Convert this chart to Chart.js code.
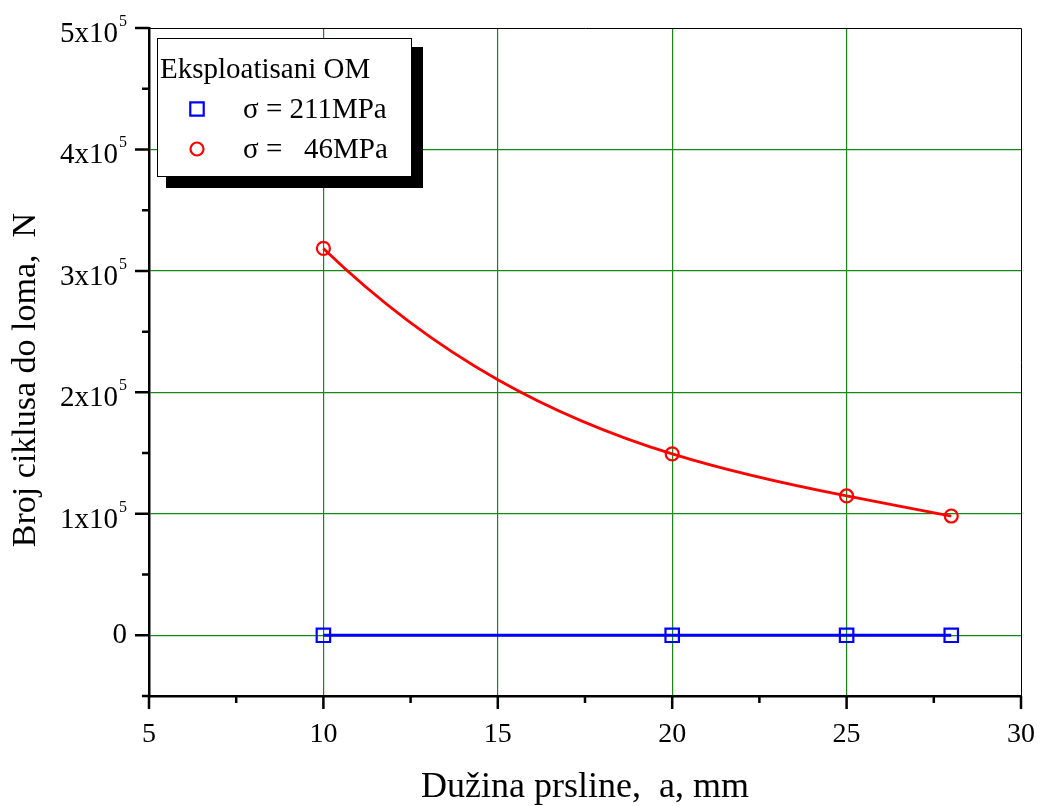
<!DOCTYPE html>
<html><head><meta charset="utf-8">
<script src="https://cdn.jsdelivr.net/npm/chart.js@4/dist/chart.umd.min.js"></script>
<style>html,body{margin:0;padding:0;background:#fff}#wrap{width:1040px;height:806px}</style>
</head><body><div id="wrap"><canvas id="c" width="1040" height="806"></canvas></div>
<script>
// ---- data ----
const crackLength = [10, 20, 25, 28];
const cycles211 = [0, 0, 0, 0];
const cycles46 = [318500, 149300, 114700, 98200];
const xTicks = [5, 10, 15, 20, 25, 30];
const xTickLabels = ['5', '10', '15', '20', '25', '30'];
const yTicks = [0, 100000, 200000, 300000, 400000, 500000];
const yTickLabels = ['0', '1x10', '2x10', '3x10', '4x10', '5x10'];
const yTickExp = ['', '5', '5', '5', '5', '5'];
const legendTitle = 'Eksploatisani OM';
const seriesNames = ['σ = 211MPa', 'σ =   46MPa'];
const xTitle = 'Dužina prsline,  a, mm';
const yTitle = 'Broj ciklusa do loma,  N';

const FONT = '"Liberation Serif", "Times New Roman", serif';

// Smooth interpolating curve through the dataset's points (polynomial derivative at nodes)
const smoothCurve = {
  id: 'smoothCurve',
  beforeDatasetDraw(chart, args) {
    const meta = args.meta, line = meta.dataset;
    if (!line || !line.updateControlPoints) return;
    line.updateControlPoints(chart.chartArea, 'x');
    const pts = meta.data, n = pts.length;
    if (n < 3) return;
    const xs = pts.map(p => p.x), ys = pts.map(p => p.y);
    const d = xs.map((xj, j) => {
      let s = 0;
      for (let i = 0; i < n; i++) {
        let li;
        if (i === j) {
          li = 0;
          for (let k = 0; k < n; k++) if (k !== j) li += 1 / (xj - xs[k]);
        } else {
          li = 1 / (xs[i] - xj);
          for (let k = 0; k < n; k++) if (k !== i && k !== j) li *= (xj - xs[k]) / (xs[i] - xs[k]);
        }
        s += ys[i] * li;
      }
      return s;
    });
    for (let j = 0; j < n; j++) {
      if (j > 0) { const h = xs[j] - xs[j - 1]; pts[j].cp1x = xs[j] - h / 3; pts[j].cp1y = ys[j] - d[j] * h / 3; }
      if (j < n - 1) { const h = xs[j + 1] - xs[j]; pts[j].cp2x = xs[j] + h / 3; pts[j].cp2y = ys[j] + d[j] * h / 3; }
    }
    line._path = undefined;
  }
};

const decor = {
  id: 'decor',
  afterDraw(chart) {
    const ctx = chart.ctx, a = chart.chartArea;
    const xs = chart.scales.x, ys = chart.scales.y;
    ctx.save();
    // top & right frame
    ctx.strokeStyle = '#000'; ctx.lineWidth = 1;
    ctx.beginPath();
    ctx.moveTo(a.left, a.top + 0.5); ctx.lineTo(a.right + 0.5, a.top + 0.5);
    ctx.lineTo(a.right + 0.5, a.bottom);
    ctx.stroke();
    // ticks
    ctx.lineWidth = 2.5;
    ctx.beginPath();
    const yStep = yTicks[1] - yTicks[0];
    yTicks.forEach(v => { const p = ys.getPixelForValue(v); ctx.moveTo(a.left - 14, p); ctx.lineTo(a.left, p); });
    [yTicks[0] - yStep / 2].concat(yTicks.slice(0, -1).map(v => v + yStep / 2)).forEach(v => {
      const p = ys.getPixelForValue(v); ctx.moveTo(a.left - 7, p); ctx.lineTo(a.left, p);
    });
    const xStep = xTicks[1] - xTicks[0];
    xTicks.forEach(v => { const p = xs.getPixelForValue(v); ctx.moveTo(p, a.bottom); ctx.lineTo(p, a.bottom + 13); });
    xTicks.slice(0, -1).map(v => v + xStep / 2).forEach(v => {
      const p = xs.getPixelForValue(v); ctx.moveTo(p, a.bottom); ctx.lineTo(p, a.bottom + 7);
    });
    ctx.stroke();
    // tick labels
    ctx.fillStyle = '#000';
    ctx.font = '28px ' + FONT;
    ctx.textAlign = 'center'; ctx.textBaseline = 'alphabetic';
    xTicks.forEach((v, i) => ctx.fillText(xTickLabels[i], xs.getPixelForValue(v), a.bottom + 46));
    const rightEdge = 127;
    yTicks.forEach((v, i) => {
      const p = ys.getPixelForValue(v);
      if (yTickExp[i]) {
        ctx.font = '16px ' + FONT;
        const sw = ctx.measureText(yTickExp[i]).width;
        ctx.textAlign = 'left';
        ctx.fillText(yTickExp[i], rightEdge - sw, p - 2);
        ctx.font = '29px ' + FONT;
        ctx.textAlign = 'right';
        ctx.fillText(yTickLabels[i], rightEdge - sw - 1, p + 14);
      } else {
        ctx.font = '29px ' + FONT;
        ctx.textAlign = 'right';
        ctx.fillText(yTickLabels[i], rightEdge, p + 8);
      }
    });
    // axis titles
    ctx.font = '36px ' + FONT;
    ctx.textAlign = 'center';
    ctx.fillText(xTitle, (a.left + a.right) / 2, 797);
    ctx.save();
    ctx.translate(35, 380);
    ctx.rotate(-Math.PI / 2);
    ctx.font = '34px ' + FONT;
    ctx.fillText(yTitle, 0, 0);
    ctx.restore();
    // legend
    const bx = 157, by = 38, bw = 254, bh = 138;
    ctx.fillStyle = '#000';
    ctx.fillRect(bx + 9, by + 9, bw + 3, bh + 3);
    ctx.fillStyle = '#fff';
    ctx.fillRect(bx, by, bw, bh);
    ctx.strokeStyle = '#000'; ctx.lineWidth = 1;
    ctx.strokeRect(bx + 0.5, by + 0.5, bw, bh);
    ctx.fillStyle = '#000';
    ctx.font = '29px ' + FONT;
    ctx.textAlign = 'left';
    ctx.fillText(legendTitle, 160, 78);
    const rowsY = [109, 149];
    chart.data.datasets.forEach((ds, i) => {
      ctx.lineWidth = ds.pointBorderWidth;
      ctx.strokeStyle = ds.pointBorderColor;
      ctx.fillStyle = 'rgba(0,0,0,0)';
      Chart.helpers.drawPoint(ctx, { pointStyle: ds.pointStyle, radius: ds.pointRadius, borderWidth: ds.pointBorderWidth, rotation: 0 }, 197, rowsY[i]);
      ctx.fillStyle = '#000';
      ctx.fillText(ds.label, 243, rowsY[i] + 9);
    });
    ctx.restore();
  }
};

const gridColor = (lo, hi) => c => (c.tick && c.tick.value >= lo && c.tick.value <= hi) ? '#148a14' : 'rgba(0,0,0,0)';

new Chart(document.getElementById('c'), {
  type: 'line',
  data: {
    datasets: [
      { label: seriesNames[0], data: crackLength.map((x, i) => ({ x, y: cycles211[i] })),
        borderColor: '#0000ff', borderWidth: 3, pointStyle: 'rect', pointRadius: 9.5, pointBorderWidth: 2.2,
        pointBorderColor: '#0000ff', pointBackgroundColor: 'rgba(0,0,0,0)', backgroundColor: 'rgba(0,0,0,0)',
        tension: 0.4, fill: false },
      { label: seriesNames[1], data: crackLength.map((x, i) => ({ x, y: cycles46[i] })),
        borderColor: '#ff0000', borderWidth: 2.8, pointStyle: 'circle', pointRadius: 6.5, pointBorderWidth: 2.2,
        pointBorderColor: '#ff0000', pointBackgroundColor: 'rgba(0,0,0,0)', backgroundColor: 'rgba(0,0,0,0)',
        tension: 0.4, fill: false }
    ]
  },
  options: {
    responsive: false, animation: false, devicePixelRatio: 1,
    layout: { padding: { top: 28, right: 19, left: 0, bottom: 0 } },
    plugins: { legend: { display: false }, tooltip: { enabled: false } },
    scales: {
      x: {
        type: 'linear', min: xTicks[0], max: xTicks[xTicks.length - 1],
        afterBuildTicks: s => { s.ticks = xTicks.map(v => ({ value: v })); },
        afterFit: s => { s.height = 110; },
        ticks: { display: false },
        grid: { drawTicks: false, lineWidth: 1.2, color: gridColor(xTicks[1], xTicks[xTicks.length - 2]) },
        border: { display: true, color: '#000', width: 2.5 }
      },
      y: {
        type: 'linear', min: -50000, max: yTicks[yTicks.length - 1],
        afterBuildTicks: s => { s.ticks = yTicks.map(v => ({ value: v })); },
        afterFit: s => { s.width = 149; },
        ticks: { display: false },
        grid: { drawTicks: false, lineWidth: 1.2, color: gridColor(yTicks[0], yTicks[yTicks.length - 2]) },
        border: { display: true, color: '#000', width: 2.5 }
      }
    }
  },
  plugins: [smoothCurve, decor]
});
</script></body></html>
